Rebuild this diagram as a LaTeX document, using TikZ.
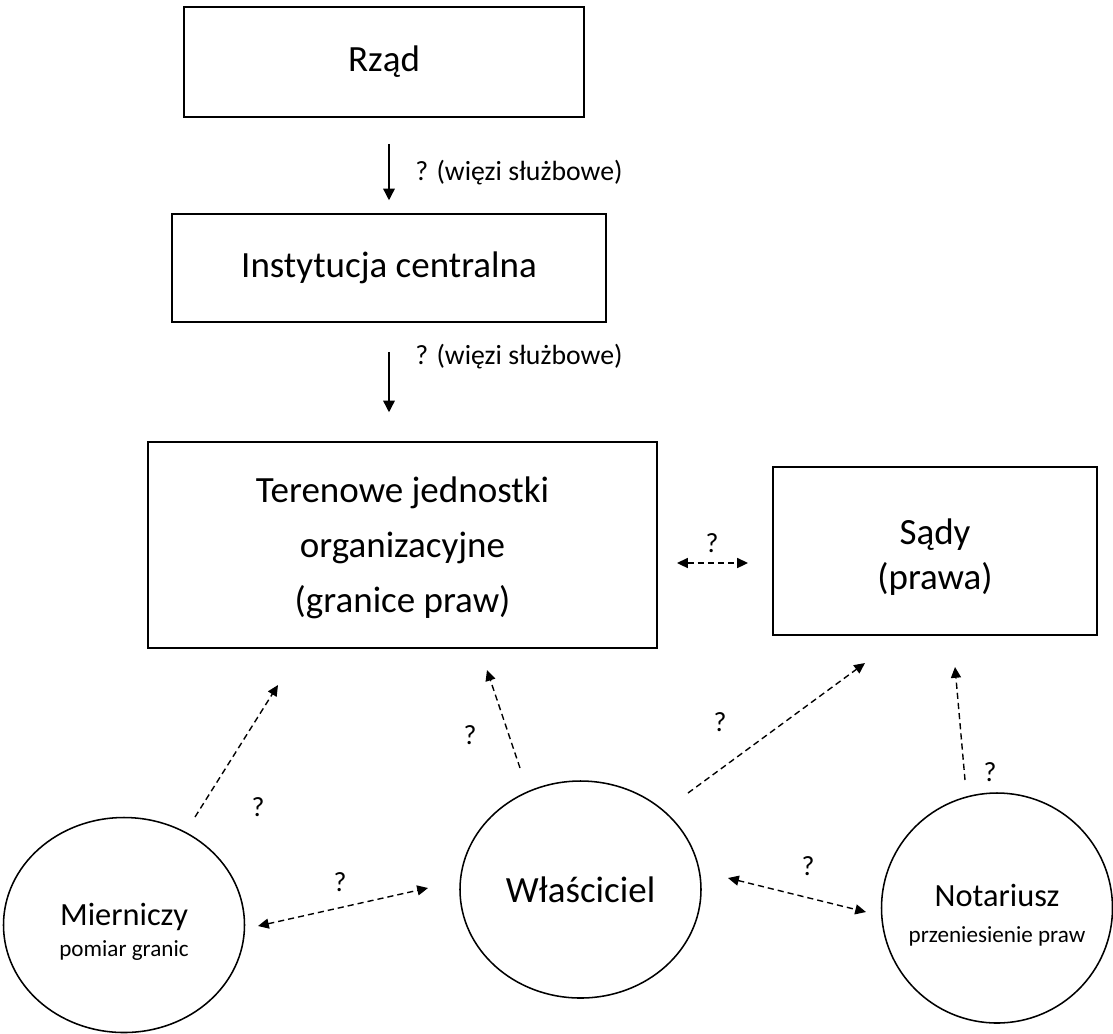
\documentclass[tikz,border=0pt]{standalone}
\usepackage{fontspec}
\setmainfont{Carlito}
\usetikzlibrary{shapes.geometric,arrows.meta,calc}
\newcommand\pxu{0.6486pt}

\begin{document}
\begin{tikzpicture}[x=0.6486pt,y=-0.6486pt,
  box/.style={draw,line width=1pt,inner sep=0pt,align=center,font=\fontsize{24}{29}\selectfont},
  oval/.style={draw,ellipse,line width=1pt,inner sep=0pt},
  ovaltext/.style={align=center,inner sep=0pt,font=\fontsize{21}{20}\selectfont},
  lbl/.style={font=\fontsize{18}{22}\selectfont,inner sep=0pt},
  solidarr/.style={-{Triangle[length=7.5pt,width=7.5pt]},line width=0.9pt},
  dasharr/.style={-{Triangle[length=7pt,width=6.5pt]},line width=0.9pt,dash pattern=on 4pt off 2.6pt},
  dblarr/.style={dasharr,{Triangle[length=7pt,width=6.5pt]}-{Triangle[length=7pt,width=6.5pt]}}]
\useasboundingbox (0,0) rectangle (1113,1033);

% boxes
\node[box,minimum width=400*\pxu,minimum height=110*\pxu] (rzad) at (384,62) {Rząd};
\node[box,minimum width=434*\pxu,minimum height=108*\pxu] (inst) at (389,268) {Instytucja centralna};
\node[box,minimum width=509*\pxu,minimum height=206*\pxu] (ter) at (402.5,545) {};
\node[box,draw=none,font=\fontsize{24}{35.5}\selectfont] (terT) at (402.5,548)
  {Terenowe jednostki\\organizacyjne\\(granice praw)};
\node[box,minimum width=324*\pxu,minimum height=168*\pxu] (sady) at (935,551) {};
\node[box,draw=none] (sadyT) at (935,557) {Sądy\\(prawa)};

% circles
\node[oval,minimum width=241*\pxu,minimum height=215*\pxu] (mier) at (124,925) {};
\node[ovaltext] (mierT) at (124,932) {Mierniczy\\{\fontsize{15}{18}\selectfont pomiar granic}};
\node[oval,minimum width=241*\pxu,minimum height=217*\pxu,font=\fontsize{24}{29}\selectfont] (wl) at (580.5,889.5) {Właściciel};
\node[oval,minimum width=231*\pxu,minimum height=230*\pxu] (nota) at (997,908) {};
\node[ovaltext,font=\fontsize{21}{23}\selectfont] (notaT) at (997,915) {Notariusz\\{\fontsize{15}{18}\selectfont przeniesienie praw}};

% solid arrows
\draw[solidarr,shorten <=26*\pxu,shorten >=13*\pxu] (rzad.south -| inst.north) -- (inst.north);
\draw[solidarr,shorten <=29*\pxu,shorten >=29*\pxu] (inst.south) -- (inst.south |- ter.north);
\node[lbl,anchor=west] (l1) at (415,173) {? (więzi służbowe)};
\node[lbl,anchor=west] (l2) at (415,357) {? (więzi służbowe)};

% dashed arrows
\coordinate (m1) at (195,817);  \coordinate (m2) at (278,685);
\coordinate (w1) at (520,768);  \coordinate (w2) at (487,670);
\coordinate (w3) at (688,793);  \coordinate (w4) at (865,663);
\coordinate (n1) at (965,780);  \coordinate (n2) at (955,667);
\coordinate (mw1) at (258,926); \coordinate (mw2) at (428,888);
\coordinate (wn1) at (728,878); \coordinate (wn2) at (866,912);
\coordinate (ts1) at (677,563); \coordinate (ts2) at (748,563);
\draw[dasharr] (m1) -- (m2);
\draw[dasharr] (w1) -- (w2);
\draw[dasharr] (w3) -- (w4);
\draw[dasharr] (n1) -- (n2);
\draw[dblarr] (mw1) -- (mw2);
\draw[dblarr] (wn1) -- (wn2);
\draw[dblarr] (ts1) -- (ts2);

\node[lbl] (qa) at (712,543) {?};
\node[lbl] (qb) at (258,807) {?};
\node[lbl] (qc) at (470,735) {?};
\node[lbl] (qd) at (720,722) {?};
\node[lbl] (qe) at (340,882) {?};
\node[lbl] (qf) at (808,866) {?};
\node[lbl] (qg) at (990,772) {?};
\end{tikzpicture}
\end{document}
